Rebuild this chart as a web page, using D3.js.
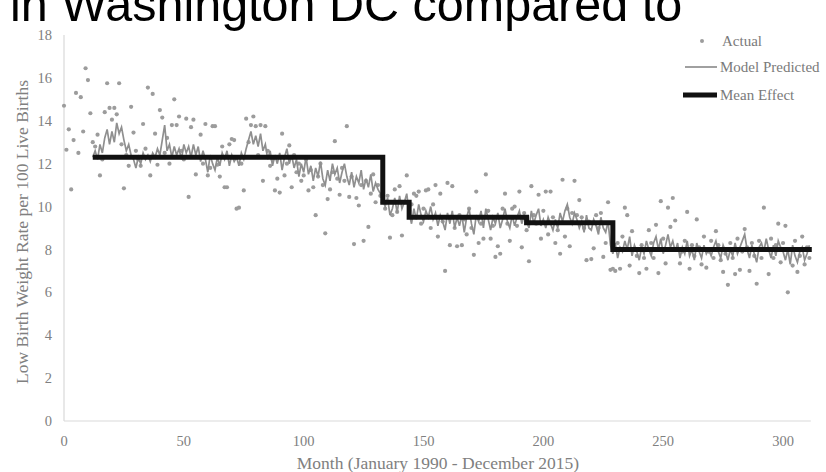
<!DOCTYPE html>
<html>
<head>
<meta charset="utf-8">
<script src="https://cdn.jsdelivr.net/npm/d3@7"></script>
<style>
  body { margin: 0; background: #fff; }
  svg { display: block; }
</style>
</head>
<body>
<svg id="chart" width="826" height="472"></svg>
<script>
// monthly low birth weight rate, Jan 1990 - Dec 2015 (month index 0..311)
const actual = [
  14.7, 12.65, 13.6, 10.8, 13.1, 15.3, 12.5, 15.1, 13.5, 16.45, 15.9, 14.35,
  13.0, 12.8, 13.35, 11.45, 12.2, 14.4, 15.75, 14.6, 14.05, 14.6, 14.3, 15.75,
  12.9, 10.85, 12.4, 11.9, 14.65, 13.45, 12.6, 12.2, 11.9, 13.85, 12.7, 15.55,
  11.45, 15.25, 13.4, 11.95, 14.5, 14.15, 12.5, 13.2, 12.0, 13.8, 15.0, 13.8,
  14.2, 12.6, 12.2, 14.1, 10.45, 13.7, 14.05, 11.5, 12.3, 13.35, 12.0, 13.85,
  11.45, 11.8, 13.75, 13.75, 11.95, 11.4, 12.8, 10.9, 10.9, 12.9, 13.15, 13.1,
  9.9, 9.95, 12.0, 10.75, 14.1, 13.0, 13.8, 14.2, 13.75, 12.4, 13.8, 11.2,
  13.75, 12.6, 11.9, 12.2, 10.75, 11.3, 10.65, 13.4, 11.45, 12.0, 12.85, 10.9,
  12.4, 11.6, 12.0, 11.2, 11.45, 12.2, 10.75, 11.7, 10.9, 9.6, 11.4, 12.0,
  11.0, 8.75, 10.35, 10.8, 11.6, 13.05, 11.3, 10.55, 11.8, 11.2, 13.75, 10.45,
  11.4, 8.25, 10.4, 10.05, 11.0, 8.4, 11.2, 9.05, 10.6, 11.5, 10.2, 11.0,
  10.5, 10.2, 9.9, 10.5, 8.55, 9.6, 10.8, 9.75, 10.95, 8.65, 10.2, 11.45,
  9.8, 10.1, 10.6, 10.5, 10.7, 9.2, 9.9, 10.75, 10.8, 9.0, 10.1, 11.0,
  8.6, 10.6, 9.3, 7.0, 11.1, 8.2, 10.95, 9.0, 8.15, 9.6, 8.2, 9.4,
  8.7, 9.9, 9.0, 7.75, 10.7, 8.3, 9.2, 8.5, 11.5, 9.8, 8.5, 9.1,
  7.65, 8.15, 7.8, 9.9, 10.6, 9.2, 8.4, 9.9, 10.0, 9.1, 10.7, 8.1,
  9.7, 8.9, 7.45, 10.95, 9.6, 9.2, 10.55, 8.5, 9.8, 10.7, 8.7, 10.7,
  9.5, 8.3, 8.9, 7.8, 11.25, 8.6, 9.9, 8.15, 9.7, 11.2, 9.6, 10.3,
  9.5, 9.0, 7.5, 9.3, 7.55, 8.05, 9.6, 9.0, 9.7, 7.65, 8.3, 10.2,
  7.05, 7.1, 7.0, 8.3, 7.1, 8.6, 9.95, 9.6, 7.25, 8.85, 8.0, 7.7,
  6.9, 8.2, 7.6, 7.1, 8.9, 8.3, 7.6, 9.15, 6.9, 10.25, 8.5, 7.35,
  9.95, 9.05, 10.4, 9.35, 8.0, 7.35, 7.9, 8.4, 9.75, 7.1, 8.2, 7.7,
  9.4, 8.1, 7.3, 8.6, 7.15, 7.9, 8.4, 7.6, 8.85, 8.2, 7.5, 6.95,
  7.8, 6.35, 8.3, 7.6, 6.85, 8.5, 7.05, 7.9, 8.95, 8.1, 7.0, 8.3,
  7.7, 6.4, 8.4, 7.6, 9.95, 8.0, 6.85, 8.5, 7.6, 8.2, 9.2, 7.4,
  8.3, 9.1, 6.0, 8.0, 7.25, 8.4, 6.95, 7.7, 8.6, 7.3, 8.1, 7.6
];

// model predicted, starts at month 12
const predictedStart = 12;
const predicted = [
  12.3, 12.6, 12.2, 12.9, 12.5, 13.2,
  13.6, 12.9, 13.5, 13.0, 13.9, 13.4,
  13.7, 13.1, 12.6, 12.9, 12.4, 12.2,
  11.8, 12.3, 12.0, 12.5, 12.2, 12.4,
  12.1, 12.5, 12.3, 12.7, 12.4, 13.1,
  13.8, 12.6, 12.9, 12.3, 12.8, 12.4,
  12.7, 12.2, 12.9, 12.5, 12.8, 12.3,
  12.9, 12.4, 12.8, 12.1, 12.6, 12.2,
  11.6, 12.4, 12.0, 11.7, 12.3, 11.9,
  12.5, 12.2, 12.6, 11.9, 12.4, 12.1,
  12.3, 11.9, 12.5, 12.2, 12.7, 13.1,
  13.5, 12.9, 13.3, 12.8, 13.4, 12.6,
  12.9, 12.2, 12.6, 11.9, 12.4, 12.0,
  12.5, 11.7, 12.3, 12.7, 12.0, 12.4,
  11.8, 12.2, 11.4, 12.0, 11.6, 12.3,
  11.5, 11.9, 11.2, 11.8, 11.4, 12.1,
  11.3, 11.0, 11.7, 11.2, 12.0, 11.5,
  11.8, 11.1, 11.6, 12.0, 11.4, 11.0,
  11.6, 10.9, 11.4, 11.1, 11.7, 10.8,
  11.3, 10.9, 11.5, 10.7, 11.1, 10.8,
  10.6, 10.3, 10.0, 10.4, 9.6, 9.9,
  10.4, 9.7, 10.5, 9.9, 10.2, 10.6,
  9.7, 9.2, 9.9, 9.4, 10.1, 9.6,
  9.3, 9.8, 9.5, 10.0, 9.4, 9.7,
  9.1, 9.6, 9.3, 8.9, 9.7, 9.2,
  9.8, 9.0, 9.5, 9.1, 9.6, 8.8,
  9.5, 9.9, 9.2, 8.7, 9.6, 9.3,
  9.8, 9.0, 9.9, 9.4, 8.9, 9.5,
  9.2, 9.7, 9.0, 9.4, 9.9, 9.3,
  9.0, 9.6, 9.1, 9.5, 9.8, 9.2,
  9.6, 9.3, 9.0, 9.8, 9.2, 9.6,
  9.9, 9.1, 9.4, 9.0, 9.5, 9.2,
  8.9, 9.4, 9.0, 9.7, 9.3, 9.8,
  10.1, 9.5, 9.2, 9.7, 9.4, 9.0,
  9.3, 8.8, 9.6, 9.0, 8.9, 9.4,
  9.1, 8.7, 9.5, 9.0, 8.8, 9.3,
  8.2, 7.8, 8.3, 7.6, 8.1, 7.9,
  8.4, 8.0, 8.6, 7.7, 8.2, 7.9,
  7.5, 8.1, 7.8, 8.4, 8.0, 7.7,
  8.3, 8.6, 8.0, 8.5, 7.8, 8.2,
  8.7, 8.1, 8.4, 7.9, 8.3, 7.6,
  8.1, 7.8, 8.4, 7.7, 8.0, 7.5,
  8.3, 7.9, 7.6, 8.2, 7.8, 8.0,
  7.7, 8.1, 8.4, 7.9, 7.6, 8.2,
  7.9, 7.5, 8.0, 7.7, 8.3, 7.8,
  8.1, 8.4, 8.7, 8.0, 7.6, 8.2,
  7.8, 7.4, 8.1, 8.3, 7.9, 8.5,
  8.0, 7.6, 8.2, 7.7, 8.4, 8.1,
  7.9, 7.5, 8.0, 7.3, 8.2, 7.7,
  7.4, 7.9, 8.1, 7.5, 7.8, 8.2
];

// mean effect: step levels between break months
const meanBreaks = [12, 133, 144, 193, 229, 312];
const meanLevels = [12.3, 10.2, 9.5, 9.25, 8.0];

const xTicks = [0, 50, 100, 150, 200, 250, 300];
const yTicks = [0, 2, 4, 6, 8, 10, 12, 14, 16, 18];

const svg = d3.select("#chart");
const serif = "'Liberation Serif', 'DejaVu Serif', serif";
const labelColor = "#808080";

const x = d3.scaleLinear().domain([0, 312]).range([64, 811.8]);
const y = d3.scaleLinear().domain([0, 18]).range([421, 35]);

// title (cut off at top in the original slide)
svg.append("text")
  .attr("x", 10)
  .attr("y", 21)
  .attr("font-family", "'Liberation Sans', Arial, sans-serif")
  .attr("font-size", 48.5)
  .attr("fill", "#000")
  .text("in Washington DC compared to");

// axes lines
svg.append("line")
  .attr("x1", x(0)).attr("x2", x(0))
  .attr("y1", y(0)).attr("y2", y(18))
  .attr("stroke", "#d9d9d9").attr("stroke-width", 1.2);
svg.append("line")
  .attr("x1", x(0)).attr("x2", x(312) - 1)
  .attr("y1", y(0)).attr("y2", y(0))
  .attr("stroke", "#d9d9d9").attr("stroke-width", 1.2);

// tick labels
svg.selectAll(".ytick")
  .data(yTicks)
  .join("text")
  .attr("class", "ytick")
  .attr("x", 52)
  .attr("y", d => y(d))
  .attr("dy", "0.35em")
  .attr("text-anchor", "end")
  .attr("font-family", serif)
  .attr("font-size", 14.5)
  .attr("fill", labelColor)
  .text(d => d);

svg.selectAll(".xtick")
  .data(xTicks)
  .join("text")
  .attr("class", "xtick")
  .attr("x", d => x(d))
  .attr("y", 441)
  .attr("dy", "0.35em")
  .attr("text-anchor", "middle")
  .attr("font-family", serif)
  .attr("font-size", 14.5)
  .attr("fill", labelColor)
  .text(d => d);

// axis titles
svg.append("text")
  .attr("transform", "translate(22,232) rotate(-90)")
  .attr("dy", "0.35em")
  .attr("text-anchor", "middle")
  .attr("font-family", serif)
  .attr("font-size", 17.5)
  .attr("fill", labelColor)
  .text("Low Birth Weight Rate per 100 Live Births");

svg.append("text")
  .attr("x", 438)
  .attr("y", 463)
  .attr("dy", "0.35em")
  .attr("text-anchor", "middle")
  .attr("font-family", serif)
  .attr("font-size", 17.5)
  .attr("fill", labelColor)
  .text("Month (January 1990 - December 2015)");

// actual points
svg.selectAll(".actual")
  .data(actual)
  .join("circle")
  .attr("class", "actual")
  .attr("cx", (d, i) => x(i))
  .attr("cy", d => y(d))
  .attr("r", 2.1)
  .attr("fill", "#9c9c9c");

// model predicted line
const predLine = d3.line()
  .x((d, i) => x(i + predictedStart))
  .y(d => y(d));
svg.append("path")
  .datum(predicted)
  .attr("d", predLine)
  .attr("fill", "none")
  .attr("stroke", "#8f8f8f")
  .attr("stroke-width", 1.7);

// mean effect step
const meanPts = meanBreaks.map((m, i) => [m, meanLevels[Math.min(i, meanLevels.length - 1)]]);
const stepLine = d3.line()
  .x(d => x(d[0]))
  .y(d => y(d[1]))
  .curve(d3.curveStepAfter);
svg.append("path")
  .datum(meanPts)
  .attr("d", stepLine)
  .attr("fill", "none")
  .attr("stroke", "#111")
  .attr("stroke-width", 5);

// legend
const legend = svg.append("g").attr("font-family", serif).attr("font-size", 15).attr("fill", "#7a7a7a");
legend.append("circle").attr("cx", 702).attr("cy", 41).attr("r", 2).attr("fill", "#9c9c9c");
legend.append("text").attr("x", 722).attr("y", 41).attr("dy", "0.35em").text("Actual");
legend.append("line").attr("x1", 685).attr("x2", 717).attr("y1", 67).attr("y2", 67)
  .attr("stroke", "#8f8f8f").attr("stroke-width", 1.7);
legend.append("text").attr("x", 720).attr("y", 67).attr("dy", "0.35em").text("Model Predicted");
legend.append("line").attr("x1", 683).attr("x2", 717).attr("y1", 95).attr("y2", 95)
  .attr("stroke", "#111").attr("stroke-width", 5);
legend.append("text").attr("x", 720).attr("y", 95).attr("dy", "0.35em").text("Mean Effect");
</script>
</body>
</html>
